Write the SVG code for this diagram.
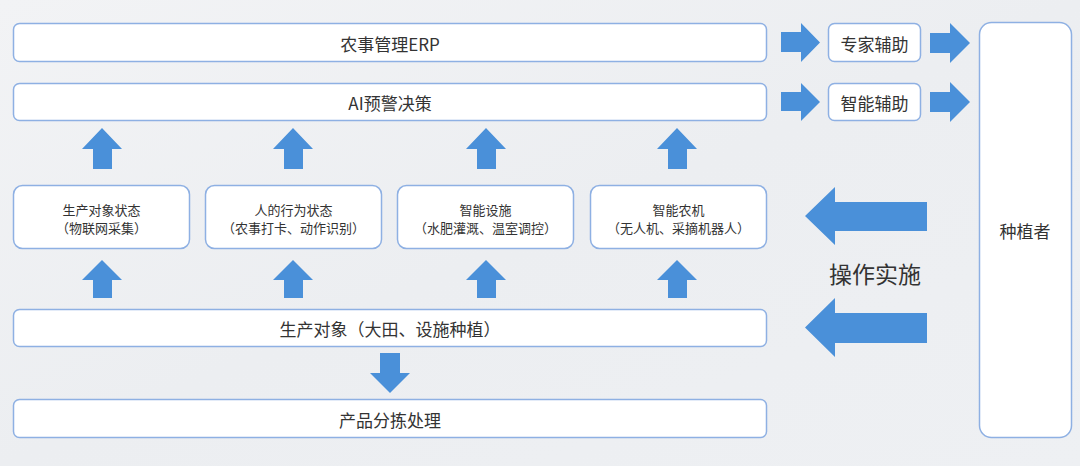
<svg xmlns="http://www.w3.org/2000/svg" width="1080" height="466" viewBox="0 0 1080 466">
<defs>
<linearGradient id="bg" x1="0" y1="0" x2="1" y2="1">
<stop offset="0" stop-color="#f2f3f5"/>
<stop offset="0.5" stop-color="#eceef1"/>
<stop offset="1" stop-color="#eef0f3"/>
</linearGradient>
<style>
.box{fill:#ffffff;stroke:#8eb0e3;stroke-width:1.5}
.t{font-family:"Noto Sans CJK SC","Noto Sans",sans-serif;fill:#333333;text-anchor:middle;dominant-baseline:central}
.big{font-size:17px}
.sm{font-size:13px}
.arr{fill:#4a90d9}
</style>
</defs>
<rect width="1080" height="466" fill="url(#bg)"/>

<g id="erp"><rect class="box" x="13.5" y="23.5" width="753" height="38" rx="6"/><text class="t big" x="390" y="43">农事管理ERP</text></g>
<g id="ai"><rect class="box" x="13.5" y="83.5" width="753" height="37" rx="6"/><text class="t big" x="390" y="102">AI预警决策</text></g>
<g id="expert"><rect class="box" x="828.5" y="23.5" width="92" height="38" rx="6"/><text class="t big" x="874.5" y="43">专家辅助</text></g>
<g id="smart"><rect class="box" x="828.5" y="83.5" width="92" height="37" rx="6"/><text class="t big" x="874.5" y="102">智能辅助</text></g>
<g id="grower"><rect class="box" x="979.5" y="22.5" width="92" height="415" rx="12"/><text class="t big" x="1025" y="230">种植者</text></g>

<g id="s1"><rect class="box" x="13.5" y="185.5" width="176" height="63" rx="9"/><text class="t sm" x="101.5" y="209">生产对象状态</text><text class="t sm" x="101.5" y="227.5">（物联网采集）</text></g>
<g id="s2"><rect class="box" x="205.5" y="185.5" width="176" height="63" rx="9"/><text class="t sm" x="293.5" y="209">人的行为状态</text><text class="t sm" x="293.5" y="227.5">（农事打卡、动作识别）</text></g>
<g id="s3"><rect class="box" x="397.5" y="185.5" width="176" height="63" rx="9"/><text class="t sm" x="485.5" y="209">智能设施</text><text class="t sm" x="485.5" y="227.5">（水肥灌溉、温室调控）</text></g>
<g id="s4"><rect class="box" x="590.5" y="185.5" width="176" height="63" rx="9"/><text class="t sm" x="678.5" y="209">智能农机</text><text class="t sm" x="678.5" y="227.5">（无人机、采摘机器人）</text></g>

<g id="obj"><rect class="box" x="13.5" y="309.5" width="753" height="37" rx="6"/><text class="t big" x="390" y="328">生产对象（大田、设施种植）</text></g>
<g id="sort"><rect class="box" x="13.5" y="399.5" width="753" height="38" rx="6"/><text class="t big" x="390" y="419">产品分拣处理</text></g>

<text class="t" x="875" y="273" font-size="23">操作实施</text>

<g id="connectors">
<polygon class="arr" points="781,32 801,32 801,23 820,42.5 801,62 801,52 781,52"/>
<polygon class="arr" points="781,92 801,92 801,83 820,102 801,121 801,111 781,111"/>
<polygon class="arr" points="930,33 950,33 950,23 970,43 950,63 950,53 930,53"/>
<polygon class="arr" points="930,92 950,92 950,82 970,102 950,122 950,112 930,112"/>
<polygon class="arr" points="93,169 93,149 82,149 102,128 122,149 112,149 112,169"/>
<polygon class="arr" points="284,169 284,149 273,149 293,128 313,149 303,149 303,169"/>
<polygon class="arr" points="477,169 477,149 466,149 486,128 506,149 496,149 496,169"/>
<polygon class="arr" points="668,169 668,149 657,149 677,128 697,149 687,149 687,169"/>
<polygon class="arr" points="93,298 93,280 82,280 102,260 122,280 112,280 112,298"/>
<polygon class="arr" points="284,298 284,280 273,280 293,260 313,280 303,280 303,298"/>
<polygon class="arr" points="477,298 477,280 466,280 486,260 506,280 496,280 496,298"/>
<polygon class="arr" points="668,298 668,280 657,280 677,260 697,280 687,280 687,298"/>
<polygon class="arr" points="927,202 835,202 835,187 805,216 835,245 835,231 927,231"/>
<polygon class="arr" points="927,313 835,313 835,298 805,327.5 835,357 835,343 927,343"/>
<polygon class="arr" points="380,353 400,353 400,373 410,373 390,393 370,373 380,373"/>
</g>
</svg>
